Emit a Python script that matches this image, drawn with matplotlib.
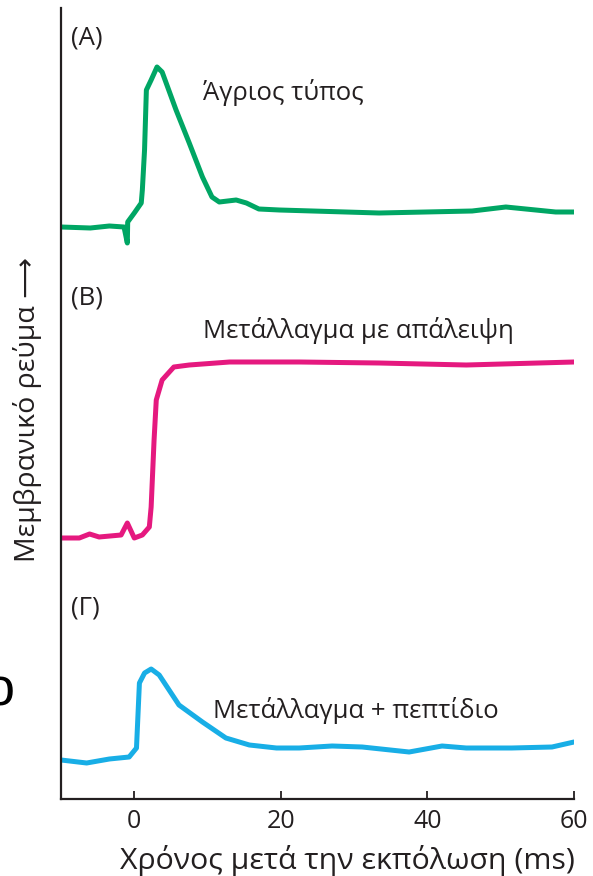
import matplotlib
matplotlib.use("Agg")
import matplotlib.pyplot as plt

# time (ms) and current (arbitrary units)
wt_t = [-10, -6, -3.4, -1.4, -0.95, -0.9, 0, 0.95, 1.1, 1.4, 1.65, 2.3, 3.1, 3.8, 5.7, 7.5, 9.3,
        10.6, 11.6, 13.9, 15.3, 17.0, 19.8, 33.4, 46.1, 50.7, 57.5, 60]
wt_i = [572, 571, 573, 572, 556, 577, 586, 596, 609, 649, 709, 719, 732, 727, 689, 656, 622,
        602, 597, 599, 596, 590, 589, 586, 588, 592, 587, 587]

del_t = [-10, -7.5, -6.1, -4.8, -1.8, -0.95, 0, 1.1, 2.05, 2.3, 2.7, 3.0, 3.8, 5.4, 7.5, 13.0,
         22.5, 33.4, 45.3, 60]
del_i = [261, 261, 265, 262, 264, 276, 261, 264, 272, 292, 359, 399, 419, 432, 434, 437,
         437, 436, 434, 437]

pep_t = [-10, -6.5, -3.4, -0.7, 0.3, 0.7, 1.4, 2.3, 3.4, 6.1, 9.3, 12.5, 15.7, 19.4, 22.5, 27.0,
         31.1, 37.5, 42.0, 45.3, 51.5, 57.0, 60]
pep_i = [39, 36, 40, 42, 51, 116, 126, 130, 124, 94, 77, 61, 54, 51, 51, 53,
         52, 47, 53, 51, 51, 52, 57]

xticks = [0, 20, 40, 60]

FONT = ["Open Sans", "DejaVu Sans"]
plt.rcParams["font.family"] = FONT

fig = plt.figure(figsize=(5.93, 8.76), dpi=100)
ax = fig.add_axes([61 / 593, 77 / 876, 513 / 593, 791 / 876])

style = dict(lw=3.6, solid_joinstyle="round", solid_capstyle="round")
ax.plot(wt_t, wt_i, color="#00A664", **style)
ax.plot(del_t, del_i, color="#E5197F", **style)
ax.plot(pep_t, pep_i, color="#18AEE6", **style)

ax.set_xlim(-10, 60)
ax.set_ylim(0, 791)
ax.set_xticks(xticks)
ax.set_yticks([])
ax.tick_params(axis="x", direction="in", length=5.5, width=1.3, pad=7, labelsize=18,
               color="#231f20", labelcolor="#231f20")
for s in ["top", "right"]:
    ax.spines[s].set_visible(False)
for s in ["left", "bottom"]:
    ax.spines[s].set_linewidth(1.6)
    ax.spines[s].set_color("#231f20")

txt = dict(fontsize=18.5, color="#231f20", va="center")
ax.text(-8.6, 761, "(A)", **txt)
ax.text(9.4, 707, "Άγριος τύπος", **txt)
ax.text(-8.6, 501, "(B)", **txt)
ax.text(9.4, 469, "Μετάλλαγμα με απάλειψη", **txt)
ax.text(-8.6, 191, "(Γ)", **txt)
ax.text(10.8, 89, "Μετάλλαγμα + πεπτίδιο", **txt)

# axis titles placed like the reference (x title sits right of centre)
fig.text(347 / 593, 1 - 861 / 876, "Χρόνος μετά την εκπόλωση (ms)", fontsize=21.8,
         color="#231f20", ha="center", va="center")
fig.text(28 / 593, 1 - 410 / 876, "Μεμβρανικό ρεύμα ⟶", rotation=90, fontsize=20.5,
         color="#231f20", ha="center", va="center", family=FONT)

# stray glyph cut by the left edge of the source image
fig.text(0, 1 - 692 / 876, "o", fontsize=39, family=["Liberation Sans", "DejaVu Sans"],
         ha="center", va="center", color="black")

fig.savefig("out.png", dpi=100)
